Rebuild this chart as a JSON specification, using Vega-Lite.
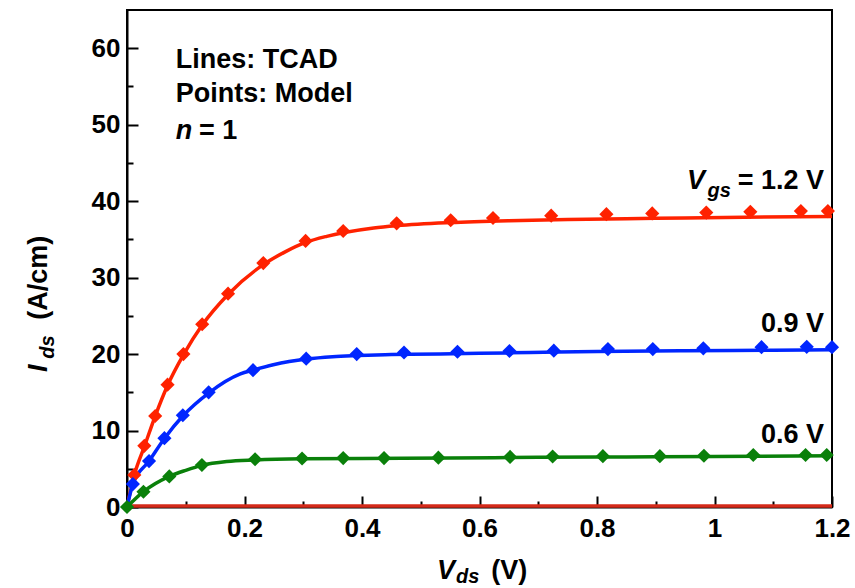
{
  "$schema": "https://vega.github.io/schema/vega-lite/v6.json",
  "width": 705,
  "height": 497,
  "autosize": {"type": "none"},
  "padding": {"left": 127, "top": 10, "right": 23, "bottom": 81},
  "background": "white",
  "config": {
    "font": "Liberation Sans",
    "view": {"stroke": "black", "strokeWidth": 2},
    "axis": {
      "grid": false,
      "domainColor": "black",
      "domainWidth": 2,
      "tickColor": "black",
      "tickWidth": 2,
      "labelColor": "black",
      "labelFont": "Liberation Sans",
      "labelFontWeight": "bold",
      "labelFontSize": 26,
      "labelFlush": false,
      "labelOverlap": false,
      "title": null
    }
  },
  "datasets": {
    "tcad": [
      {"vgs": "0.3", "vds": 0, "ids": 0.12},
      {"vgs": "0.3", "vds": 1.2, "ids": 0.12},
      {"vgs": "1.2", "vds": 0, "ids": 0},
      {"vgs": "1.2", "vds": 0.0125, "ids": 4.2},
      {"vgs": "1.2", "vds": 0.03, "ids": 8.0},
      {"vgs": "1.2", "vds": 0.048, "ids": 11.9},
      {"vgs": "1.2", "vds": 0.069, "ids": 15.9},
      {"vgs": "1.2", "vds": 0.096, "ids": 19.9},
      {"vgs": "1.2", "vds": 0.128, "ids": 23.8},
      {"vgs": "1.2", "vds": 0.172, "ids": 27.8},
      {"vgs": "1.2", "vds": 0.232, "ids": 31.7},
      {"vgs": "1.2", "vds": 0.27, "ids": 33.4},
      {"vgs": "1.2", "vds": 0.304, "ids": 34.6},
      {"vgs": "1.2", "vds": 0.34, "ids": 35.4},
      {"vgs": "1.2", "vds": 0.37, "ids": 35.9},
      {"vgs": "1.2", "vds": 0.42, "ids": 36.5},
      {"vgs": "1.2", "vds": 0.46, "ids": 36.8},
      {"vgs": "1.2", "vds": 0.55, "ids": 37.2},
      {"vgs": "1.2", "vds": 0.65, "ids": 37.45},
      {"vgs": "1.2", "vds": 0.75, "ids": 37.6},
      {"vgs": "1.2", "vds": 0.9, "ids": 37.75},
      {"vgs": "1.2", "vds": 1.05, "ids": 37.9},
      {"vgs": "1.2", "vds": 1.2, "ids": 38.0},
      {"vgs": "0.9", "vds": 0, "ids": 0},
      {"vgs": "0.9", "vds": 0.01, "ids": 3.0},
      {"vgs": "0.9", "vds": 0.0375, "ids": 6.0},
      {"vgs": "0.9", "vds": 0.064, "ids": 9.0},
      {"vgs": "0.9", "vds": 0.095, "ids": 11.9},
      {"vgs": "0.9", "vds": 0.139, "ids": 14.9},
      {"vgs": "0.9", "vds": 0.193, "ids": 17.4},
      {"vgs": "0.9", "vds": 0.2145, "ids": 17.9},
      {"vgs": "0.9", "vds": 0.249, "ids": 18.6},
      {"vgs": "0.9", "vds": 0.306, "ids": 19.35},
      {"vgs": "0.9", "vds": 0.35, "ids": 19.65},
      {"vgs": "0.9", "vds": 0.391, "ids": 19.8},
      {"vgs": "0.9", "vds": 0.45, "ids": 19.95},
      {"vgs": "0.9", "vds": 0.533, "ids": 20.0},
      {"vgs": "0.9", "vds": 0.6, "ids": 20.1},
      {"vgs": "0.9", "vds": 0.686, "ids": 20.2},
      {"vgs": "0.9", "vds": 0.8, "ids": 20.35},
      {"vgs": "0.9", "vds": 0.95, "ids": 20.45},
      {"vgs": "0.9", "vds": 1.1, "ids": 20.5},
      {"vgs": "0.9", "vds": 1.2, "ids": 20.55},
      {"vgs": "0.6", "vds": 0, "ids": 0},
      {"vgs": "0.6", "vds": 0.028, "ids": 2.0},
      {"vgs": "0.6", "vds": 0.072, "ids": 4.0},
      {"vgs": "0.6", "vds": 0.1, "ids": 4.8},
      {"vgs": "0.6", "vds": 0.1275, "ids": 5.45},
      {"vgs": "0.6", "vds": 0.17, "ids": 5.95},
      {"vgs": "0.6", "vds": 0.218, "ids": 6.15},
      {"vgs": "0.6", "vds": 0.3, "ids": 6.3},
      {"vgs": "0.6", "vds": 0.4, "ids": 6.35},
      {"vgs": "0.6", "vds": 0.55, "ids": 6.4},
      {"vgs": "0.6", "vds": 0.7, "ids": 6.5},
      {"vgs": "0.6", "vds": 0.85, "ids": 6.55},
      {"vgs": "0.6", "vds": 1.0, "ids": 6.6},
      {"vgs": "0.6", "vds": 1.2, "ids": 6.7}
    ],
    "model": [
      {"vgs": "1.2", "vds": 0.0125, "ids": 4.2},
      {"vgs": "1.2", "vds": 0.0295, "ids": 8.0},
      {"vgs": "1.2", "vds": 0.048, "ids": 11.9},
      {"vgs": "1.2", "vds": 0.069, "ids": 16.0},
      {"vgs": "1.2", "vds": 0.096, "ids": 20.0},
      {"vgs": "1.2", "vds": 0.128, "ids": 23.9},
      {"vgs": "1.2", "vds": 0.172, "ids": 27.9},
      {"vgs": "1.2", "vds": 0.232, "ids": 31.9},
      {"vgs": "1.2", "vds": 0.304, "ids": 34.8},
      {"vgs": "1.2", "vds": 0.368, "ids": 36.1},
      {"vgs": "1.2", "vds": 0.459, "ids": 37.1},
      {"vgs": "1.2", "vds": 0.551, "ids": 37.5},
      {"vgs": "1.2", "vds": 0.623, "ids": 37.8},
      {"vgs": "1.2", "vds": 0.722, "ids": 38.1},
      {"vgs": "1.2", "vds": 0.816, "ids": 38.3},
      {"vgs": "1.2", "vds": 0.894, "ids": 38.4},
      {"vgs": "1.2", "vds": 0.986, "ids": 38.5},
      {"vgs": "1.2", "vds": 1.061, "ids": 38.6},
      {"vgs": "1.2", "vds": 1.147, "ids": 38.7},
      {"vgs": "1.2", "vds": 1.193, "ids": 38.7},
      {"vgs": "0.9", "vds": 0.01, "ids": 3.0},
      {"vgs": "0.9", "vds": 0.0375, "ids": 6.0},
      {"vgs": "0.9", "vds": 0.0637, "ids": 9.0},
      {"vgs": "0.9", "vds": 0.095, "ids": 12.0},
      {"vgs": "0.9", "vds": 0.139, "ids": 15.0},
      {"vgs": "0.9", "vds": 0.2145, "ids": 17.9},
      {"vgs": "0.9", "vds": 0.305, "ids": 19.4},
      {"vgs": "0.9", "vds": 0.391, "ids": 20.0},
      {"vgs": "0.9", "vds": 0.4715, "ids": 20.2},
      {"vgs": "0.9", "vds": 0.5625, "ids": 20.3},
      {"vgs": "0.9", "vds": 0.651, "ids": 20.4},
      {"vgs": "0.9", "vds": 0.7265, "ids": 20.45},
      {"vgs": "0.9", "vds": 0.8186, "ids": 20.65},
      {"vgs": "0.9", "vds": 0.895, "ids": 20.65},
      {"vgs": "0.9", "vds": 0.981, "ids": 20.75},
      {"vgs": "0.9", "vds": 1.08, "ids": 20.9},
      {"vgs": "0.9", "vds": 1.157, "ids": 20.95},
      {"vgs": "0.9", "vds": 1.2, "ids": 20.9},
      {"vgs": "0.6", "vds": 0, "ids": 0},
      {"vgs": "0.6", "vds": 0.028, "ids": 2.0},
      {"vgs": "0.6", "vds": 0.072, "ids": 4.0},
      {"vgs": "0.6", "vds": 0.1275, "ids": 5.5},
      {"vgs": "0.6", "vds": 0.218, "ids": 6.25},
      {"vgs": "0.6", "vds": 0.298, "ids": 6.35},
      {"vgs": "0.6", "vds": 0.368, "ids": 6.4},
      {"vgs": "0.6", "vds": 0.4375, "ids": 6.4},
      {"vgs": "0.6", "vds": 0.53, "ids": 6.45},
      {"vgs": "0.6", "vds": 0.652, "ids": 6.55},
      {"vgs": "0.6", "vds": 0.7245, "ids": 6.6},
      {"vgs": "0.6", "vds": 0.81, "ids": 6.65},
      {"vgs": "0.6", "vds": 0.907, "ids": 6.65},
      {"vgs": "0.6", "vds": 0.982, "ids": 6.7},
      {"vgs": "0.6", "vds": 1.066, "ids": 6.8},
      {"vgs": "0.6", "vds": 1.155, "ids": 6.8},
      {"vgs": "0.6", "vds": 1.191, "ids": 6.8}
    ],
    "textLeft": [
      {"label": "Lines: TCAD", "x": 0.083, "y": 57.4},
      {"label": "Points: Model", "x": 0.083, "y": 53.0},
      {"label": "= 1", "x": 0.1226, "y": 48.1},
      {"label": "(V)", "x": 0.62, "y": -9.4}
    ],
    "textLeftItalic": [
      {"label": "n", "x": 0.083, "y": 48.1},
      {"label": "V", "x": 0.5277, "y": -9.4}
    ],
    "textLeftSub": [
      {"label": "ds", "x": 0.5600, "y": -10.0}
    ],
    "textRight": [
      {"label": "= 1.2 V", "x": 1.1864, "y": 41.6},
      {"label": "0.9 V", "x": 1.1864, "y": 22.9},
      {"label": "0.6 V", "x": 1.1864, "y": 8.4}
    ],
    "textRightItalic": [
      {"label": "V", "x": 0.984, "y": 41.6}
    ],
    "textRightSub": [
      {"label": "gs", "x": 1.028, "y": 40.5}
    ],
    "yTitleMain": [
      {"label": "I", "x": -0.1362, "y": 17.66}
    ],
    "yTitleSub": [
      {"label": "ds", "x": -0.1243, "y": 19.4}
    ],
    "yTitleRest": [
      {"label": "(A/cm)", "x": -0.1362, "y": 24.5}
    ]
  },
  "layer": [
    {
      "data": {"name": "tcad"},
      "mark": {"type": "line", "strokeWidth": 3.5, "interpolate": "monotone"},
      "encoding": {
        "x": {
          "field": "vds", "type": "quantitative",
          "scale": {"domain": [0, 1.2], "nice": false, "zero": false},
          "axis": {
            "values": [0, 0.1, 0.2, 0.3, 0.4, 0.5, 0.6, 0.7, 0.8, 0.9, 1.0, 1.1, 1.2],
            "labelExpr": "round(datum.value*10) % 2 == 0 ? format(datum.value, '.1~f') : ''",
            "tickSize": {"condition": {"test": "round(datum.value*10) % 2 == 1", "value": -6}, "value": -11},
            "labelPadding": 19
          }
        },
        "y": {
          "field": "ids", "type": "quantitative",
          "scale": {"domain": [0, 65], "nice": false, "zero": false},
          "axis": {
            "values": [0, 5, 10, 15, 20, 25, 30, 35, 40, 45, 50, 55, 60],
            "labelExpr": "datum.value % 10 == 0 ? datum.label : ''",
            "tickSize": {"condition": {"test": "datum.value % 10 != 0", "value": -6}, "value": -11},
            "labelPadding": 18
          }
        },
        "color": {
          "field": "vgs", "type": "nominal",
          "scale": {"domain": ["0.3", "0.6", "0.9", "1.2"], "range": ["#d42a1a", "#0a800a", "#0026ff", "#ff2200"]},
          "legend": null
        },
        "detail": {"field": "vgs"}
      }
    },
    {
      "data": {"name": "model"},
      "mark": {"type": "point", "shape": "diamond", "filled": true, "size": 200, "opacity": 1},
      "encoding": {
        "x": {"field": "vds", "type": "quantitative"},
        "y": {"field": "ids", "type": "quantitative"},
        "color": {"field": "vgs", "type": "nominal", "legend": null}
      }
    },
    {
      "data": {"name": "textLeft"},
      "mark": {"type": "text", "align": "left", "baseline": "alphabetic", "fontSize": 27, "fontWeight": "bold", "color": "black"},
      "encoding": {
        "x": {"field": "x", "type": "quantitative"},
        "y": {"field": "y", "type": "quantitative"},
        "text": {"field": "label"}
      }
    },
    {
      "data": {"name": "textLeftItalic"},
      "mark": {"type": "text", "align": "left", "baseline": "alphabetic", "fontSize": 27, "fontWeight": "bold", "fontStyle": "italic", "color": "black"},
      "encoding": {
        "x": {"field": "x", "type": "quantitative"},
        "y": {"field": "y", "type": "quantitative"},
        "text": {"field": "label"}
      }
    },
    {
      "data": {"name": "textLeftSub"},
      "mark": {"type": "text", "align": "left", "baseline": "alphabetic", "fontSize": 20, "fontWeight": "bold", "fontStyle": "italic", "color": "black"},
      "encoding": {
        "x": {"field": "x", "type": "quantitative"},
        "y": {"field": "y", "type": "quantitative"},
        "text": {"field": "label"}
      }
    },
    {
      "data": {"name": "textRight"},
      "mark": {"type": "text", "align": "right", "baseline": "alphabetic", "fontSize": 27, "fontWeight": "bold", "color": "black"},
      "encoding": {
        "x": {"field": "x", "type": "quantitative"},
        "y": {"field": "y", "type": "quantitative"},
        "text": {"field": "label"}
      }
    },
    {
      "data": {"name": "textRightItalic"},
      "mark": {"type": "text", "align": "right", "baseline": "alphabetic", "fontSize": 27, "fontWeight": "bold", "fontStyle": "italic", "color": "black"},
      "encoding": {
        "x": {"field": "x", "type": "quantitative"},
        "y": {"field": "y", "type": "quantitative"},
        "text": {"field": "label"}
      }
    },
    {
      "data": {"name": "textRightSub"},
      "mark": {"type": "text", "align": "right", "baseline": "alphabetic", "fontSize": 20, "fontWeight": "bold", "fontStyle": "italic", "color": "black"},
      "encoding": {
        "x": {"field": "x", "type": "quantitative"},
        "y": {"field": "y", "type": "quantitative"},
        "text": {"field": "label"}
      }
    },
    {
      "data": {"name": "yTitleMain"},
      "mark": {"type": "text", "align": "left", "baseline": "alphabetic", "angle": 270, "fontSize": 27, "fontWeight": "bold", "fontStyle": "italic", "color": "black"},
      "encoding": {
        "x": {"field": "x", "type": "quantitative"},
        "y": {"field": "y", "type": "quantitative"},
        "text": {"field": "label"}
      }
    },
    {
      "data": {"name": "yTitleSub"},
      "mark": {"type": "text", "align": "left", "baseline": "alphabetic", "angle": 270, "fontSize": 20, "fontWeight": "bold", "fontStyle": "italic", "color": "black"},
      "encoding": {
        "x": {"field": "x", "type": "quantitative"},
        "y": {"field": "y", "type": "quantitative"},
        "text": {"field": "label"}
      }
    },
    {
      "data": {"name": "yTitleRest"},
      "mark": {"type": "text", "align": "left", "baseline": "alphabetic", "angle": 270, "fontSize": 27, "fontWeight": "bold", "color": "black"},
      "encoding": {
        "x": {"field": "x", "type": "quantitative"},
        "y": {"field": "y", "type": "quantitative"},
        "text": {"field": "label"}
      }
    }
  ]
}
